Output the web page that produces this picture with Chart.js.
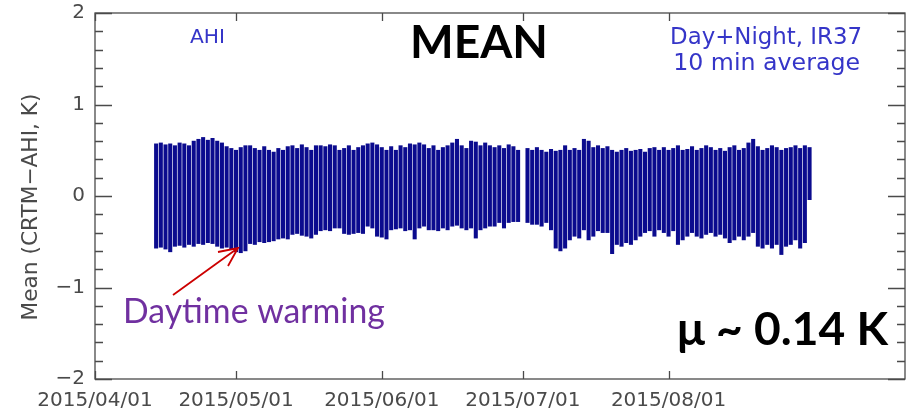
<!DOCTYPE html>
<html>
<head>
<meta charset="utf-8">
<script src="https://cdn.jsdelivr.net/npm/chart.js@4"></script>
<style>
  html, body { margin: 0; padding: 0; background: #fff; }
  #wrap { width: 906px; height: 408px; }
</style>
</head>
<body>
<div id="wrap"><canvas id="c" width="906" height="408"></canvas></div>
<script>
// days counted from 2015/04/01 (day 0); first bar is day 13, day 91 (07/01) is missing
const startDay = 13;

// daily minimum of the 10 min means (K)
const lows = [
  -0.57, -0.56, -0.58, -0.61, -0.55, -0.54, -0.56, -0.53, -0.55,
  -0.52, -0.53, -0.51, -0.52, -0.55, -0.57, -0.56, -0.58, -0.61,
  -0.62, -0.6, -0.52, -0.53, -0.5, -0.51, -0.5, -0.49, -0.47,
  -0.46, -0.47, -0.42, -0.41, -0.43, -0.44, -0.46, -0.42,
  // 05/18 ..
  -0.38, -0.37, -0.38, -0.35, -0.35, -0.41, -0.42, -0.41, -0.4,
  -0.41, -0.33, -0.35, -0.44, -0.45, -0.47, -0.37, -0.36, -0.35,
  -0.38, -0.37, -0.47, -0.35, -0.33, -0.37, -0.37, -0.38, -0.35,
  -0.37, -0.33, -0.32, -0.35, -0.37, -0.35, -0.46, -0.37, -0.35, -0.33,
  // 06/24 ..
  -0.33, -0.29, -0.35, -0.29, -0.28, -0.28, null,
  -0.29, -0.31, -0.31, -0.33, -0.29, -0.37, -0.57, -0.6, -0.57,
  -0.48, -0.44, -0.46, -0.37, -0.48, -0.44, -0.38, -0.4, -0.4,
  -0.63, -0.53, -0.55, -0.51, -0.53, -0.48, -0.44, -0.4, -0.38,
  -0.44, -0.37,
  // 07/31 ..
  -0.4, -0.44, -0.38, -0.53, -0.48, -0.44, -0.4, -0.44, -0.46,
  -0.42, -0.4, -0.44, -0.42, -0.46, -0.51, -0.48, -0.44, -0.48,
  -0.44, -0.4, -0.55, -0.57, -0.53, -0.57, -0.53, -0.64, -0.55,
  -0.53, -0.48, -0.57, -0.51, -0.04
];

// daily maximum of the 10 min means (K)
const highs = [
  0.57, 0.58, 0.56, 0.57, 0.55, 0.58, 0.57, 0.55, 0.6,
  0.62, 0.64, 0.61, 0.63, 0.6, 0.58, 0.54, 0.52, 0.5,
  0.53, 0.55, 0.55, 0.52, 0.5, 0.54, 0.5, 0.48, 0.52,
  0.5, 0.54, 0.55, 0.52, 0.56, 0.53, 0.5, 0.55,
  // 05/18 ..
  0.55, 0.54, 0.56, 0.55, 0.5, 0.52, 0.55, 0.5, 0.53,
  0.55, 0.57, 0.58, 0.56, 0.53, 0.5, 0.54, 0.5, 0.55,
  0.53, 0.57, 0.56, 0.58, 0.56, 0.52, 0.55, 0.5, 0.53,
  0.55, 0.58, 0.62, 0.55, 0.52, 0.6, 0.59, 0.55, 0.58, 0.55,
  // 06/24 ..
  0.53, 0.55, 0.52, 0.56, 0.54, 0.5, null,
  0.52, 0.5, 0.53, 0.5, 0.48, 0.51, 0.49, 0.5, 0.55,
  0.5, 0.52, 0.5, 0.62, 0.6, 0.53, 0.55, 0.52, 0.54,
  0.5, 0.48, 0.5, 0.52, 0.49, 0.5, 0.51, 0.48, 0.52,
  0.53, 0.5,
  // 07/31 ..
  0.53, 0.5, 0.52, 0.55, 0.5, 0.51, 0.54, 0.5, 0.52,
  0.55, 0.53, 0.5, 0.52, 0.49, 0.53, 0.55, 0.5, 0.52,
  0.58, 0.62, 0.54, 0.5, 0.52, 0.55, 0.53, 0.5, 0.52,
  0.53, 0.55, 0.52, 0.55, 0.53
];

const xTickDays = [0, 30, 61, 91, 122];
const xTickLabels = ["2015/04/01", "2015/05/01", "2015/06/01", "2015/07/01", "2015/08/01"];
const xMaxDay = 172.3;
const yTickValues = [-2, -1, 0, 1, 2];

const barColor = "#0b0b8e";
const axisColor = "#4a4a4a";
const hersheyFont = "'DejaVu Sans', sans-serif";

// build bar points
const barData = [];
lows.forEach((lo, i) => {
  if (lo === null || highs[i] === null) return;
  barData.push({ x: startDay + i, y: [lo, highs[i]] });
});

// write text squeezed/stretched to a given width
function fitText(ctx, text, x, y, width, size, family, weight, align) {
  ctx.font = `${weight} ${size}px ${family}`;
  const w = ctx.measureText(text).width;
  const s = (size * width) / w;
  ctx.font = `${weight} ${s}px ${family}`;
  ctx.textAlign = align || "left";
  ctx.fillText(text, x, y);
}

// frame, inward ticks and annotations
const decorPlugin = {
  id: "decor",
  afterDatasetsDraw(chart) {
    const ctx = chart.ctx;
    const a = chart.chartArea;
    const xs = chart.scales.x;
    const ys = chart.scales.y;
    ctx.save();
    ctx.strokeStyle = axisColor;
    ctx.lineWidth = 1.3;
    ctx.strokeRect(a.left, a.top, a.right - a.left, a.bottom - a.top);

    ctx.beginPath();
    for (let k = -20; k <= 20; k += 2) {
      const v = k / 10;
      const py = Math.round(ys.getPixelForValue(v)) + 0.5;
      const len = k % 10 === 0 ? 17 : 8;
      ctx.moveTo(a.left, py);
      ctx.lineTo(a.left + len, py);
      ctx.moveTo(a.right, py);
      ctx.lineTo(a.right - len, py);
    }
    xTickDays.forEach((d) => {
      const px = Math.round(xs.getPixelForValue(d)) + 0.5;
      ctx.moveTo(px, a.bottom);
      ctx.lineTo(px, a.bottom - 8);
      ctx.moveTo(px, a.top);
      ctx.lineTo(px, a.top + 8);
    });
    ctx.stroke();

    // y axis title
    ctx.save();
    ctx.translate(37, 207);
    ctx.rotate(-Math.PI / 2);
    ctx.fillStyle = axisColor;
    ctx.textBaseline = "alphabetic";
    fitText(ctx, "Mean (CRTM\u2212AHI, K)", 0, 0, 227, 18, hersheyFont, "normal", "center");
    ctx.restore();

    ctx.textBaseline = "alphabetic";
    ctx.fillStyle = "#3535c8";
    fitText(ctx, "AHI", 190, 43, 35, 20, hersheyFont, "normal", "left");
    fitText(ctx, "Day+Night, IR37", 862, 44, 192, 20, hersheyFont, "normal", "right");
    fitText(ctx, "10 min average", 860, 70, 187, 20, hersheyFont, "normal", "right");

    ctx.fillStyle = "#000";
    fitText(ctx, "MEAN", 410, 58, 138, 40, "Lato, 'Open Sans', sans-serif", "bold", "left");
    fitText(ctx, "\u03bc ~ 0.14 K", 888, 345, 211, 40, "Lato, 'Open Sans', sans-serif", "bold", "right");

    ctx.fillStyle = "#7030a0";
    fitText(ctx, "Daytime warming", 123, 323, 262, 32, "Lato, 'Open Sans', sans-serif", "normal", "left");

    // red arrow
    ctx.strokeStyle = "#cc0000";
    ctx.lineWidth = 1.8;
    ctx.beginPath();
    ctx.moveTo(173, 295);
    ctx.lineTo(238, 248);
    ctx.moveTo(218, 252);
    ctx.lineTo(238, 248);
    ctx.lineTo(228, 266);
    ctx.stroke();
    ctx.restore();
  },
};

new Chart(document.getElementById("c"), {
  type: "bar",
  data: {
    datasets: [
      {
        data: barData,
        backgroundColor: barColor,
        borderWidth: 0,
        barThickness: 3.4,
        grouped: false,
      },
    ],
  },
  options: {
    responsive: false,
    animation: false,
    events: [],
    layout: { padding: { top: 13, right: 1, left: 0, bottom: 0 } },
    plugins: { legend: { display: false }, tooltip: { enabled: false } },
    scales: {
      x: {
        type: "linear",
        min: 0,
        max: xMaxDay,
        offset: false,
        grid: { display: false, drawTicks: false },
        border: { display: false },
        afterBuildTicks: (s) => {
          s.ticks = xTickDays.map((v) => ({ value: v }));
        },
        afterFit: (s) => {
          s.height = 29;
          s.paddingLeft = 0;
          s.paddingRight = 0;
        },
        ticks: {
          autoSkip: false,
          maxRotation: 0,
          padding: 10,
          color: axisColor,
          font: { family: hersheyFont, size: 20 },
          callback: (v) => xTickLabels[xTickDays.indexOf(v)],
        },
      },
      y: {
        min: -2,
        max: 2,
        grid: { display: false, drawTicks: false },
        border: { display: false },
        afterBuildTicks: (s) => {
          s.ticks = yTickValues.map((v) => ({ value: v }));
        },
        afterFit: (s) => {
          s.width = 95;
          s.paddingTop = 0;
          s.paddingBottom = 0;
        },
        ticks: {
          padding: 10,
          color: axisColor,
          font: { family: hersheyFont, size: 20 },
          callback: (v) => (v < 0 ? "\u2212" + Math.abs(v) : String(v)),
        },
      },
    },
  },
  plugins: [decorPlugin],
});
</script>
</body>
</html>
